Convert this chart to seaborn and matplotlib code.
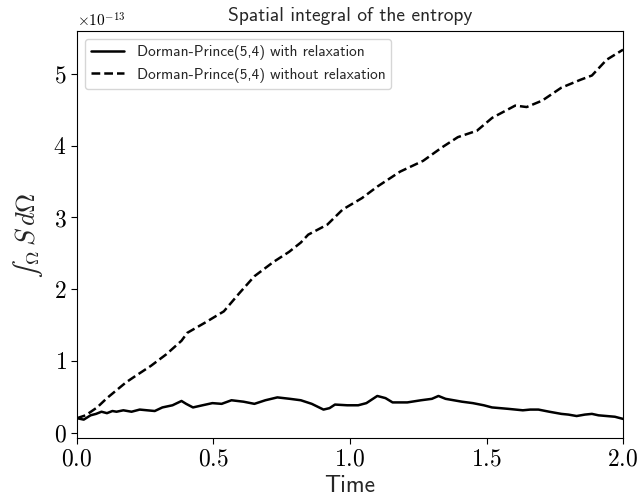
import numpy as np
import pandas as pd
import matplotlib
matplotlib.use("Agg")
import matplotlib.pyplot as plt
import seaborn as sns

# data (values in units of 1e-13)
t_relax = [0.0, 0.025, 0.05, 0.07, 0.09, 0.11, 0.13, 0.145, 0.17, 0.2, 0.23, 0.257, 0.285,
           0.313, 0.35, 0.383, 0.40, 0.425, 0.46, 0.496, 0.53, 0.566, 0.61, 0.65, 0.69,
           0.734, 0.78, 0.82, 0.86, 0.903, 0.925, 0.945, 0.99, 1.03, 1.06, 1.10, 1.13,
           1.156, 1.21, 1.26, 1.30, 1.324, 1.35, 1.38, 1.41, 1.45, 1.49, 1.52, 1.58,
           1.633, 1.66, 1.69, 1.73, 1.774, 1.80, 1.83, 1.86, 1.886, 1.91, 1.94, 1.97, 2.0]
s_relax = [0.20, 0.18, 0.24, 0.26, 0.29, 0.27, 0.30, 0.29, 0.31, 0.29, 0.32, 0.31, 0.30,
           0.35, 0.38, 0.44, 0.40, 0.35, 0.38, 0.41, 0.40, 0.45, 0.43, 0.40, 0.45,
           0.49, 0.47, 0.45, 0.40, 0.32, 0.34, 0.39, 0.38, 0.38, 0.41, 0.51, 0.48,
           0.42, 0.42, 0.45, 0.47, 0.51, 0.47, 0.45, 0.43, 0.41, 0.38, 0.35, 0.33,
           0.31, 0.32, 0.32, 0.29, 0.26, 0.25, 0.23, 0.25, 0.26, 0.24, 0.23, 0.22, 0.19]

t_norelax = [0.0, 0.032, 0.074, 0.11, 0.145, 0.18, 0.215, 0.271, 0.327, 0.383, 0.404,
             0.468, 0.538, 0.594, 0.65, 0.72, 0.777, 0.82, 0.847, 0.917, 0.973, 1.044,
             1.10, 1.184, 1.268, 1.338, 1.395, 1.465, 1.521, 1.605, 1.647, 1.704, 1.774,
             1.844, 1.886, 1.94, 2.0]
s_norelax = [0.20, 0.24, 0.35, 0.48, 0.59, 0.70, 0.79, 0.93, 1.09, 1.28, 1.39,
             1.53, 1.69, 1.94, 2.18, 2.38, 2.52, 2.65, 2.76, 2.90, 3.11, 3.27,
             3.43, 3.64, 3.79, 3.98, 4.12, 4.21, 4.39, 4.56, 4.54, 4.63, 4.81,
             4.92, 4.98, 5.20, 5.34]

lab_relax = "Dorman-Prince(5,4) with relaxation"
lab_norelax = "Dorman-Prince(5,4) without relaxation"

df = pd.concat([
    pd.DataFrame({"time": t_relax, "S": np.array(s_relax) * 1e-13, "method": lab_relax}),
    pd.DataFrame({"time": t_norelax, "S": np.array(s_norelax) * 1e-13, "method": lab_norelax}),
])

sns.set_style("ticks")
# Computer Modern look: cmr10 for numbers, cmss10 for words
plt.rcParams["font.family"] = ["cmr10"]
plt.rcParams["mathtext.fontset"] = "cm"
plt.rcParams["axes.formatter.use_mathtext"] = True
sans = "cmss10"

fig = plt.figure(figsize=(6.41, 5.03), dpi=100)
ax = fig.add_axes([0.120, 0.129, 0.852, 0.809])

sns.lineplot(data=df, x="time", y="S", style="method", color="black", linewidth=1.8,
             dashes={lab_relax: "", lab_norelax: (3.5, 1.6)}, ax=ax, sort=False)

ax.set_xlim(0, 2)
ax.set_xticks([0.0, 0.5, 1.0, 1.5, 2.0])
ax.tick_params(labelsize=17, direction="out", length=4, width=0.8, colors="black")
ax.yaxis.get_offset_text().set_fontsize(11)
for sp in ax.spines.values():
    sp.set_visible(True)
    sp.set_linewidth(0.8)
    sp.set_color("black")

ax.set_title("Spatial integral of the entropy", fontsize=14, pad=7, family=sans)
ax.set_xlabel("Time", fontsize=17, family=sans, labelpad=3)
ax.set_ylabel("$\u222b_\\Omega\\, S\\, d\\Omega$", fontsize=19, labelpad=6)
ax.legend(loc="upper left", prop={"family": sans, "size": 11}, handlelength=2.2, frameon=True)

fig.savefig("out.png", dpi=100)
